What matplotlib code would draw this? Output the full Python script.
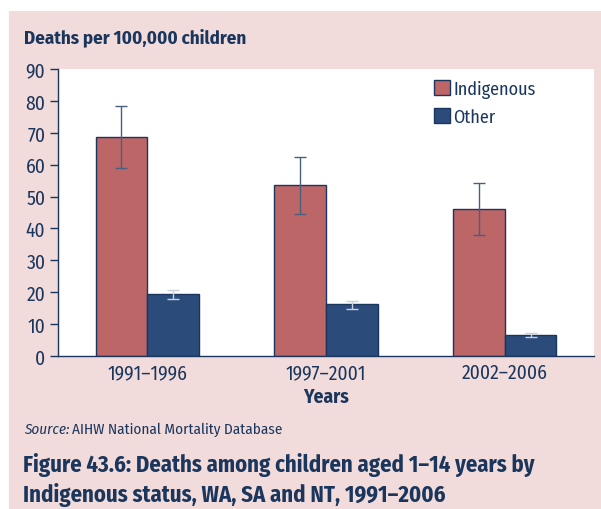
import numpy as np
import matplotlib.pyplot as plt
import matplotlib.patches as pltch

periods = ["1991\u20131996", "1997\u20132001", "2002\u20132006"]
indigenous = [68.8, 53.6, 46.2]
indigenous_lo = [58.9, 44.5, 37.8]
indigenous_hi = [78.5, 62.4, 54.2]
other = [19.4, 16.2, 6.7]
other_lo = [18.0, 14.8, 6.0]
other_hi = [20.8, 17.4, 7.2]

navy = "#1b365d"
pink_bg = "#f2dcdb"
red = "#bd6667"
blue = "#2b4c7a"

plt.rcParams['font.family'] = ['Fira Sans Condensed', 'DejaVu Sans']

W, H = 601, 510
fig = plt.figure(figsize=(W / 100, H / 100), dpi=100)
fig.patch.set_facecolor("white")
# pink panel behind everything
fig.patches.append(pltch.Rectangle((9 / W, 0), 1, 1 - 12 / H, transform=fig.transFigure,
                                   facecolor=pink_bg, edgecolor="none", zorder=-10))

ax = fig.add_axes([58 / W, 1 - 357 / H, (594 - 58) / W, (357 - 70) / H])
ax.set_facecolor("white")

x = np.arange(len(periods))
w = 0.29
ind_err = [np.array(indigenous) - np.array(indigenous_lo), np.array(indigenous_hi) - np.array(indigenous)]
oth_err = [np.array(other) - np.array(other_lo), np.array(other_hi) - np.array(other)]

ax.bar(x - w / 2, indigenous, w, color=red, edgecolor=navy, linewidth=1, label="Indigenous",
       yerr=ind_err, error_kw=dict(ecolor="#4a5f80", elinewidth=1, capsize=4, capthick=1))
ax.bar(x + w / 2, other, w, color=blue, edgecolor=navy, linewidth=1, label="Other",
       yerr=oth_err, error_kw=dict(ecolor="#c8d0dc", elinewidth=1, capsize=4, capthick=1))

ax.set_xlim(-0.5, 2.5)
ax.set_ylim(0, 90)
ax.set_yticks(np.arange(0, 91, 10))
ax.set_xticks(x)
ax.set_xticklabels(periods)

for s in ["top", "right"]:
    ax.spines[s].set_visible(False)
for s in ["left", "bottom"]:
    ax.spines[s].set_color(navy)
    ax.spines[s].set_linewidth(1)

ax.tick_params(axis="y", colors=navy, labelsize=14, length=6, width=1, pad=3, labelcolor=navy)
ax.tick_params(axis="x", length=0, labelsize=14, pad=5, labelcolor=navy)

ax.set_xlabel("Years", fontsize=14, fontweight="bold", color=navy, labelpad=3)

leg = ax.legend(loc="upper left", bbox_to_anchor=(0.684, 0.993), frameon=False, fontsize=13,
                handlelength=0.9, handleheight=0.9, handletextpad=0.2, labelspacing=0.55,
                borderaxespad=0.3, borderpad=0.2)
for t in leg.get_texts():
    t.set_color(navy)

fig.text(24 / W, 1 - 38 / H, "Deaths per 100,000 children", fontsize=13.6, fontweight="bold",
         color=navy, va="center", ha="left")

src = fig.text(24 / W, 1 - 430 / H, "Source:", fontsize=10.9, fontstyle="italic",
               color=navy, va="center", ha="left")
fig.canvas.draw()
bb = src.get_window_extent()
fig.text((bb.x1 + 3) / W, 1 - 430 / H, "AIHW National Mortality Database", fontsize=10.9,
         color=navy, va="center", ha="left")

fig.text(23 / W, 1 - 465 / H, "Figure 43.6: Deaths among children aged 1\u201314 years by",
         fontsize=16.3, fontweight="bold", color=navy, va="center", ha="left")
fig.text(23 / W, 1 - 495 / H, "Indigenous status, WA, SA and NT, 1991\u20132006",
         fontsize=16.3, fontweight="bold", color=navy, va="center", ha="left")

fig.savefig("out.png", dpi=100, facecolor=fig.get_facecolor())
